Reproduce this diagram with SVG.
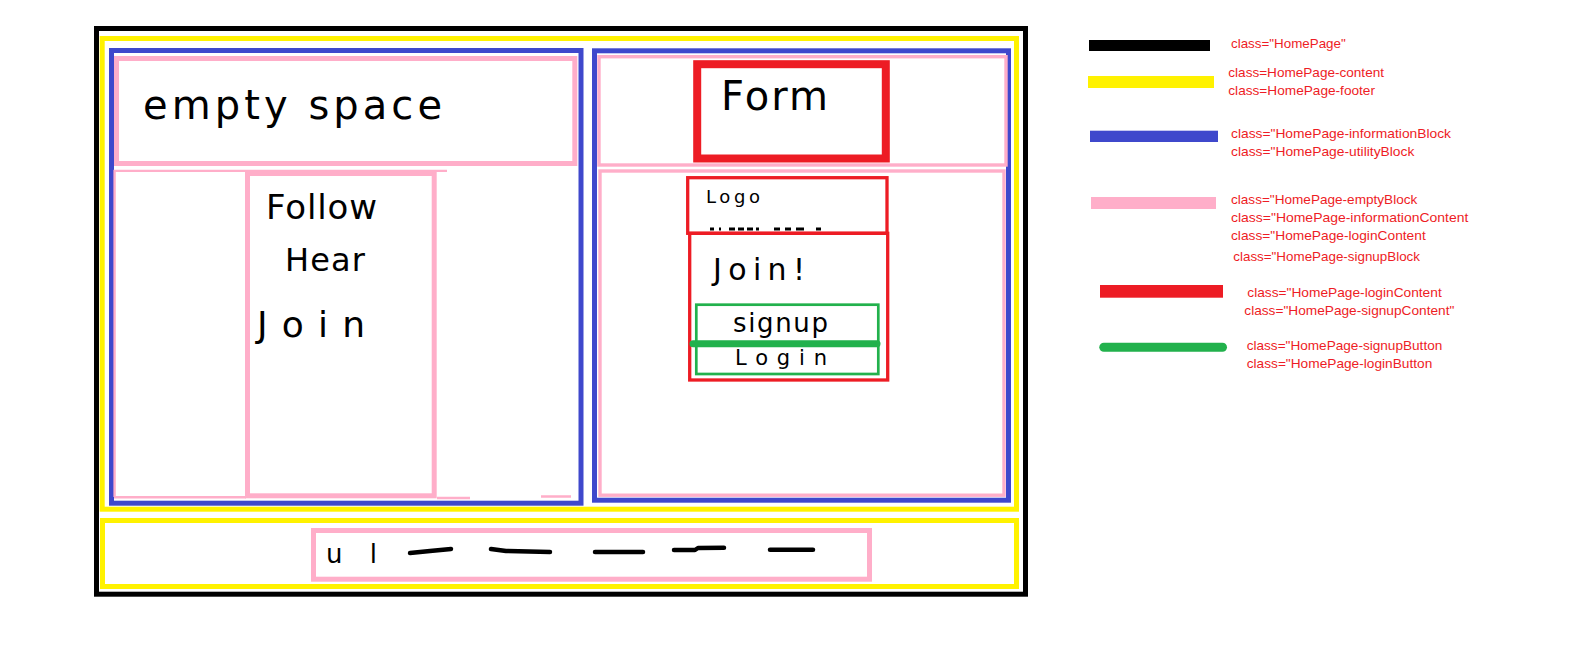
<svg xmlns="http://www.w3.org/2000/svg" width="1573" height="648" viewBox="0 0 1573 648">
<style>
.box{fill:none}
.blk{stroke:#000000;stroke-width:5}
.yel{stroke:#fff200;stroke-width:5}
.blu{stroke:#3f48cc;stroke-width:5}
.pnk{stroke:#ffaec9;stroke-width:5}
.pnk3{stroke:#ffaec9;stroke-width:3.4}
.red8{stroke:#ed1c24;stroke-width:8}
.red3{stroke:#ed1c24;stroke-width:3.3}
.grn{stroke:#22b14c;stroke-width:2.7}
.hand{font-family:"DejaVu Sans",sans-serif;fill:#000000}
.dash{stroke:#000000;stroke-width:4.5;stroke-linecap:round;stroke-linejoin:round;fill:none}
.lg{font-family:"Liberation Sans",Arial,sans-serif;font-size:13.5px;fill:#ee1c25}
</style>
<rect width="1573" height="648" fill="#ffffff"/>

<g id="HomePage">
<rect class="box blk" x="96.5" y="28.5" width="929" height="565.7"/>
</g>

<g id="HomePage-content">
<rect class="box yel" x="102.2" y="38.5" width="914.3" height="470.7"/>
</g>

<g id="HomePage-informationBlock">
<rect class="box blu" x="111.5" y="50.5" width="469.5" height="452.7"/>
</g>

<g id="HomePage-emptyBlock">
<rect class="box pnk" x="116.5" y="58.5" width="458.3" height="105"/>
<text class="hand" x="143" y="119" font-size="40" textLength="299" lengthAdjust="spacing">empty space</text>
</g>

<g id="HomePage-informationArea">
<path class="box" stroke="#ffaec9" stroke-width="2.4" d="M114.6,497 V170.9 H447 M114,497.2 H246 M437,498 H470 M541,496.5 H571"/>
</g>

<g id="HomePage-informationContent">
<rect class="box pnk" x="247.5" y="173.5" width="186.7" height="322.3"/>
<text class="hand" x="266" y="219" font-size="34" textLength="111" lengthAdjust="spacing">Follow</text>
<text class="hand" x="285" y="271" font-size="32" textLength="80" lengthAdjust="spacing">Hear</text>
<text class="hand" x="257" y="337" font-size="36" textLength="108" lengthAdjust="spacing">Join</text>
</g>

<g id="HomePage-utilityBlock">
<rect class="box blu" x="594.5" y="50.8" width="414" height="449.4"/>
</g>

<g id="HomePage-loginContent">
<rect class="box pnk3" x="599" y="56.7" width="407" height="108.3"/>
</g>

<g id="HomePage-form">
<rect class="box red8" x="697.2" y="64.2" width="188.6" height="94.3"/>
<text class="hand" x="721" y="110" font-size="40" textLength="107" lengthAdjust="spacing">Form</text>
</g>

<g id="HomePage-signupBlock">
<rect class="box pnk3" x="600" y="171" width="404" height="324.2"/>
</g>

<g id="HomePage-logo">
<text class="hand" x="706" y="203" font-size="18" textLength="54" lengthAdjust="spacing">Logo</text>
<line x1="710" y1="229" x2="827" y2="229" stroke="#000000" stroke-width="3" stroke-dasharray="4,5,2,8,6,3,6,3,6,3,3,15,6,5,6,5,8,12,5,30"/>
<rect class="box red3" x="687.7" y="177.7" width="199.3" height="55.6"/>
</g>

<g id="HomePage-signupContent">
<rect class="box red3" x="689.7" y="233.3" width="198" height="146.7"/>
<text class="hand" x="713" y="280" font-size="30" textLength="92" lengthAdjust="spacing">Join!</text>
</g>

<g id="HomePage-signupButton">
<rect class="box grn" x="696.3" y="304.7" width="182" height="69.3"/>
<text class="hand" x="733" y="332" font-size="26" textLength="95" lengthAdjust="spacing">signup</text>
<line x1="693" y1="343.8" x2="877" y2="343.8" stroke="#22b14c" stroke-width="7" stroke-linecap="round"/>
</g>

<g id="HomePage-loginButton">
<text class="hand" x="735" y="365" font-size="21" textLength="92" lengthAdjust="spacing">Login</text>
</g>

<g id="HomePage-footer">
<rect class="box yel" x="102.5" y="520.5" width="914" height="66"/>
</g>

<g id="HomePage-footerList">
<rect class="box pnk" x="313.5" y="530.5" width="556" height="48.7"/>
<text class="hand" x="326" y="563" font-size="26" textLength="51" lengthAdjust="spacing">ul</text>
<path class="dash" d="M410,553 L430,551 L451,549"/>
<path class="dash" d="M491,549 L506,551 L550,552"/>
<path class="dash" d="M595,552 L643,552"/>
<path class="dash" d="M674,550 L695,550 L698,548 L724,547.7"/>
<path class="dash" d="M770,549.7 L813,549.7"/>
</g>

<g id="connectors"></g>

<g id="legend">
<rect x="1089" y="40" width="121" height="11" fill="#000000"/>
<text class="lg" x="1231" y="47.7" textLength="114.7" lengthAdjust="spacingAndGlyphs">class="HomePage"</text>
<rect x="1088" y="76" width="126" height="12" fill="#fff200"/>
<text class="lg" x="1228.3" y="77.3" textLength="155.7" lengthAdjust="spacingAndGlyphs">class=HomePage-content</text>
<text class="lg" x="1228.3" y="95" textLength="146.7" lengthAdjust="spacingAndGlyphs">class=HomePage-footer</text>
<rect x="1090" y="130.7" width="128" height="11.3" fill="#3f48cc"/>
<text class="lg" x="1231" y="138" textLength="220" lengthAdjust="spacingAndGlyphs">class="HomePage-informationBlock</text>
<text class="lg" x="1231" y="155.7" textLength="183.3" lengthAdjust="spacingAndGlyphs">class="HomePage-utilityBlock</text>
<rect x="1091" y="197" width="125" height="12" fill="#ffaec9"/>
<text class="lg" x="1231" y="204" textLength="186.3" lengthAdjust="spacingAndGlyphs">class="HomePage-emptyBlock</text>
<text class="lg" x="1231" y="221.7" textLength="237.3" lengthAdjust="spacingAndGlyphs">class="HomePage-informationContent</text>
<text class="lg" x="1231" y="239.7" textLength="194.7" lengthAdjust="spacingAndGlyphs">class="HomePage-loginContent</text>
<text class="lg" x="1233.3" y="261.3" textLength="186.7" lengthAdjust="spacingAndGlyphs">class="HomePage-signupBlock</text>
<rect x="1100" y="285" width="123" height="12.7" fill="#ed1c24"/>
<text class="lg" x="1247.3" y="296.7" textLength="194.4" lengthAdjust="spacingAndGlyphs">class="HomePage-loginContent</text>
<text class="lg" x="1244.3" y="314.7" textLength="210" lengthAdjust="spacingAndGlyphs">class="HomePage-signupContent"</text>
<rect x="1099.3" y="342.7" width="127.7" height="9" rx="4.5" fill="#22b14c"/>
<text class="lg" x="1246.7" y="350" textLength="195.6" lengthAdjust="spacingAndGlyphs">class="HomePage-signupButton</text>
<text class="lg" x="1246.7" y="368" textLength="185.6" lengthAdjust="spacingAndGlyphs">class="HomePage-loginButton</text>
</g>
</svg>
